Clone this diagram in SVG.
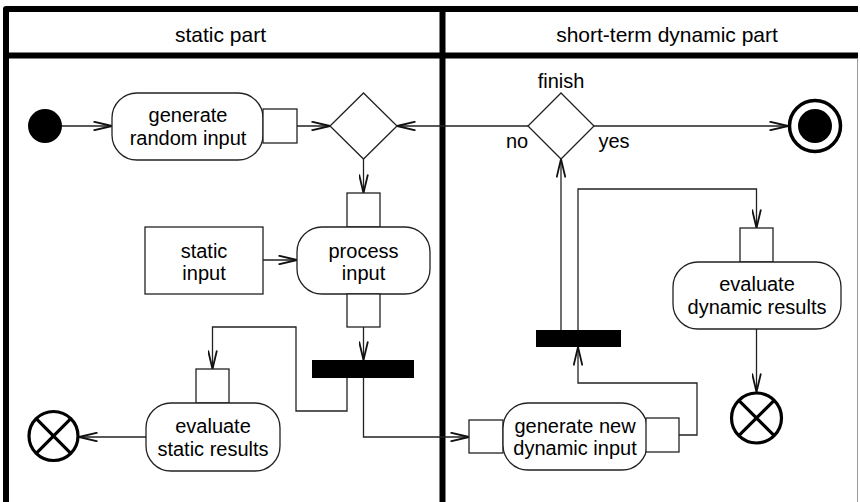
<svg xmlns="http://www.w3.org/2000/svg" width="860" height="502" viewBox="0 0 860 502">
  <style>
    .lane { fill: none; stroke: #000; stroke-width: 6; stroke-linejoin: round; }
    .hdr { font-family: "Liberation Sans", Arial, sans-serif; font-size: 21px; fill: #000; text-anchor: middle; }
    .lbl { font-family: "Liberation Sans", Arial, sans-serif; font-size: 20px; fill: #000; text-anchor: middle; }
    .act { fill: #fff; stroke: #222; stroke-width: 1.3; }
    .pin { fill: #fff; stroke: #222; stroke-width: 1.3; }
    .dec { fill: #fff; stroke: #222; stroke-width: 1.3; }
    .bar { fill: #000; }
    .flow { fill: none; stroke: #222; stroke-width: 1.3; marker-end: url(#open); }
    .ff { fill: #fff; stroke: #000; stroke-width: 3.2; }
  </style>
  <defs>
    <marker id="open" viewBox="0 0 20 10" refX="19.5" refY="5" markerWidth="20" markerHeight="10" orient="auto" markerUnits="userSpaceOnUse">
      <path d="M1,0.6 L19.5,5 L1,9.4" fill="none" stroke="#111" stroke-width="1.8"/>
    </marker>
  </defs>

  <rect x="0" y="0" width="860" height="502" fill="#fff"/>

  <!-- swimlane frame -->
  <g id="lanes">
    <path class="lane" d="M6,505 V9 H858"/>
    <line class="lane" x1="6" y1="55.5" x2="858" y2="55.5"/>
    <line class="lane" x1="442.5" y1="9" x2="442.5" y2="505"/>
    <line x1="857.5" y1="58" x2="857.5" y2="502" stroke="#999" stroke-width="1"/>
    <text class="hdr" x="220.5" y="41.5">static part</text>
    <text class="hdr" x="667" y="41.5">short-term dynamic part</text>
  </g>

  <!-- connectors -->
  <g id="connectors">
    <path class="flow" d="M62,126 H112"/>
    <path class="flow" d="M297,126 H330"/>
    <path class="flow" d="M363.5,159 V193"/>
    <path class="flow" d="M263,260 H297"/>
    <path class="flow" d="M363.5,327 V360"/>
    <path class="flow" d="M347,378 V411 H296 V327 H212.5 V369"/>
    <path class="flow" d="M146,437 H79"/>
    <path class="flow" d="M363.5,378 V437 H469"/>
    <path class="flow" d="M679,435 H697 V383 H578 V347"/>
    <path class="flow" d="M561,330 V159"/>
    <path class="flow" d="M578,330 V189 H756.5 V228"/>
    <path class="flow" d="M756.5,329 V392"/>
    <path class="flow" d="M594,126 H788"/>
    <path class="flow" d="M528,126 H397"/>
  </g>

  <!-- nodes -->
  <g id="start">
    <circle cx="45" cy="126" r="17" fill="#000"/>
  </g>

  <g id="generate-random-input">
    <rect class="act" x="112" y="93" width="151" height="67" rx="25"/>
    <text class="lbl" x="188" y="122">generate</text>
    <text class="lbl" x="188" y="145">random input</text>
    <rect class="pin" x="263" y="109" width="34" height="34"/>
  </g>

  <g id="merge">
    <polygon class="dec" points="363.5,93 397,126 363.5,159 330,126"/>
  </g>

  <g id="static-input">
    <rect class="act" x="145" y="227" width="118" height="67"/>
    <text class="lbl" x="204" y="257.5">static</text>
    <text class="lbl" x="204" y="280">input</text>
  </g>

  <g id="process-input">
    <rect class="pin" x="347" y="193" width="33" height="34"/>
    <rect class="act" x="297" y="227" width="133" height="67" rx="25"/>
    <text class="lbl" x="363.5" y="257.5">process</text>
    <text class="lbl" x="363.5" y="280">input</text>
    <rect class="pin" x="347" y="294" width="33" height="33"/>
  </g>

  <g id="fork-static">
    <rect class="bar" x="312" y="360" width="102" height="18"/>
  </g>

  <g id="evaluate-static-results">
    <rect class="pin" x="196" y="369" width="33" height="34"/>
    <rect class="act" x="146" y="403" width="134" height="68" rx="25"/>
    <text class="lbl" x="213" y="432.5">evaluate</text>
    <text class="lbl" x="213" y="456">static results</text>
  </g>

  <g id="end-static">
    <circle class="ff" cx="53.5" cy="436" r="24.5"/>
    <path d="M36.2,418.7 L70.8,453.3 M70.8,418.7 L36.2,453.3" stroke="#000" stroke-width="3.2"/>
  </g>

  <g id="generate-new-dynamic-input">
    <rect class="pin" x="469" y="420" width="34" height="33"/>
    <rect class="act" x="503" y="403" width="144" height="67" rx="25"/>
    <text class="lbl" x="575" y="433">generate new</text>
    <text class="lbl" x="575" y="455">dynamic input</text>
    <rect class="pin" x="646" y="418" width="33" height="34"/>
  </g>

  <g id="fork-dynamic">
    <rect class="bar" x="536" y="330" width="85" height="17"/>
  </g>

  <g id="finish">
    <polygon class="dec" points="561,93 594,126 561,159 528,126"/>
    <text class="lbl" x="561" y="87.5">finish</text>
    <text class="lbl" x="517" y="148">no</text>
    <text class="lbl" x="614" y="148">yes</text>
  </g>

  <g id="end">
    <circle cx="815" cy="126" r="25.5" fill="#fff" stroke="#000" stroke-width="3.5"/>
    <circle cx="815" cy="126" r="17" fill="#000"/>
  </g>

  <g id="evaluate-dynamic-results">
    <rect class="pin" x="740" y="228" width="33" height="34"/>
    <rect class="act" x="673" y="262" width="168" height="67" rx="25"/>
    <text class="lbl" x="757" y="291">evaluate</text>
    <text class="lbl" x="757" y="313.5">dynamic results</text>
  </g>

  <g id="end-dynamic">
    <circle class="ff" cx="756.5" cy="418" r="25"/>
    <path d="M738.8,400.3 L774.2,435.7 M774.2,400.3 L738.8,435.7" stroke="#000" stroke-width="3.2"/>
  </g>
</svg>
